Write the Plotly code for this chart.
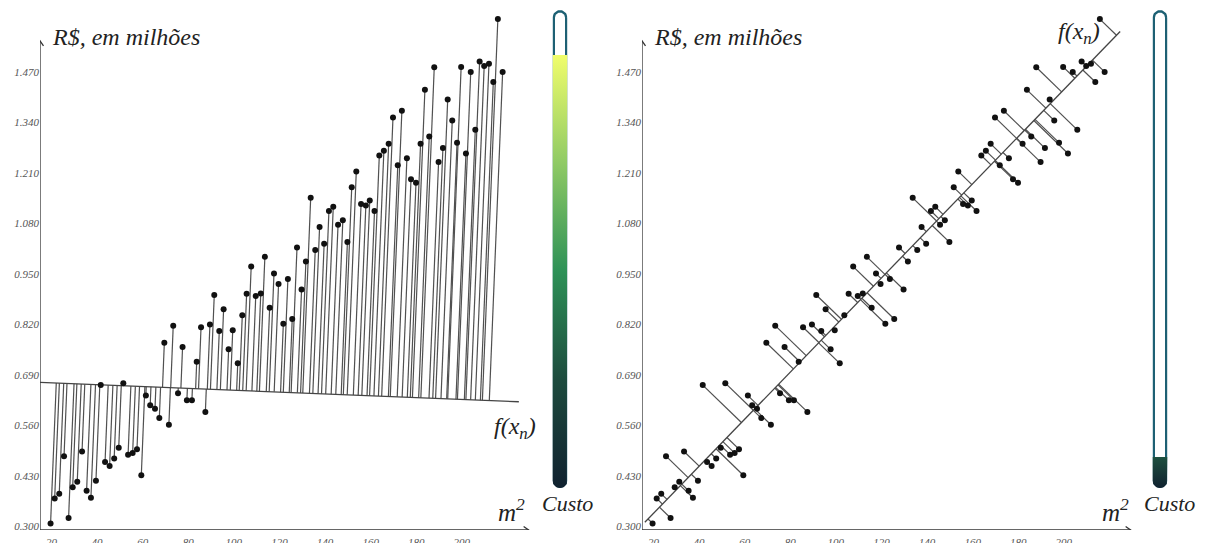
import numpy as np
import plotly.graph_objects as go

# ---------------- data ----------------
area_m2 = [19.6, 21.4, 23.4, 25.5, 27.5, 29.3, 31.3, 33.4, 35.4, 37.3,
           39.5, 41.6, 43.5, 45.5, 47.5, 49.5, 51.5, 53.6, 55.6, 57.5,
           59.4, 61.4, 63.3, 65.4, 67.3, 69.5, 71.5, 73.4, 75.5, 77.5,
           79.4, 81.6, 83.7, 85.6, 87.5, 89.5, 91.4, 93.6, 95.5, 97.7,
           99.5, 101.7, 103.7, 105.6, 107.6, 109.6, 111.8, 113.6, 115.7, 117.6,
           119.6, 121.7, 123.7, 125.6, 127.7, 129.7, 131.6, 133.7, 135.7, 137.6,
           139.6, 141.7, 143.6, 145.7, 147.8, 149.8, 151.7, 153.7, 155.8, 157.9,
           159.6, 161.7, 163.8, 165.8, 167.9, 169.8, 171.9, 173.7, 175.9, 177.7,
           179.9, 181.9, 183.8, 185.7, 187.9, 189.8, 191.7, 193.8, 195.8, 197.9,
           199.7, 201.8, 203.9, 205.9, 207.8, 209.8, 211.9, 213.8, 215.8, 217.9]
price_mi = [0.308, 0.372, 0.384, 0.481, 0.322, 0.401, 0.415, 0.493, 0.392, 0.374,
            0.418, 0.664, 0.466, 0.456, 0.475, 0.503, 0.669, 0.485, 0.489, 0.499,
            0.432, 0.637, 0.612, 0.603, 0.579, 0.773, 0.562, 0.817, 0.643, 0.762,
            0.625, 0.625, 0.724, 0.813, 0.595, 0.820, 0.896, 0.803, 0.859, 0.756,
            0.805, 0.720, 0.844, 0.899, 0.969, 0.893, 0.900, 0.994, 0.863, 0.951,
            0.924, 0.822, 0.937, 0.834, 1.018, 0.910, 0.982, 1.146, 1.012, 1.071,
            1.028, 1.112, 1.123, 1.077, 1.088, 1.032, 1.173, 1.214, 1.130, 1.126,
            1.139, 1.112, 1.255, 1.267, 1.285, 1.353, 1.230, 1.370, 1.248, 1.194,
            1.185, 1.285, 1.424, 1.304, 1.482, 1.238, 1.274, 1.399, 1.345, 1.288,
            1.483, 1.260, 1.470, 1.321, 1.497, 1.485, 1.491, 1.444, 1.606, 1.470]

fit_initial = [0.6746, -0.000238]   # intercept, slope
fit_final = [0.2126, 0.00606]
fit_span_initial = [15.0, 225.0]
fit_span_final = [16.2, 224.7]
cost_fraction = [0.906, 0.065]

y_ticks = [0.300, 0.430, 0.560, 0.690, 0.820, 0.950, 1.080, 1.210, 1.340, 1.470]
x_ticks = [20, 40, 60, 80, 100, 120, 140, 160, 180, 200]

# ---------------- layout geometry ----------------
W, H = 1205, 543
X_RANGE = [14.96, 229.9]
Y_RANGE = [0.291, 1.6423]
PANELS = [(40, 530), (642, 1132)]
Y_TOP, Y_BOT = 5, 530
GAUGES = [(552.5, 567.5), (1152.5, 1167.5)]
G_TOP, G_BOT = 10, 488
X_TIP, Y_TIP = 229.3, 1.55

SERIF = "Liberation Serif"
AX_COL = "#333333"

def px_x(p):
    return p / W

def px_y(p):
    return 1 - p / H

sx = (PANELS[0][1] - PANELS[0][0]) / (X_RANGE[1] - X_RANGE[0])
sy = (Y_BOT - Y_TOP) / (Y_RANGE[1] - Y_RANGE[0])

def feet(fit):
    a, b = fit
    x = np.array(area_m2)
    y = np.array(price_mi)
    X, Y = x * sx, y * sy
    m = b * sy / sx
    A = a * sy
    t = (X + m * (Y - A)) / (1 + m * m)
    return t / sx, (A + m * t) / sy

fig = go.Figure()

for k, (fit, span) in enumerate([(fit_initial, fit_span_initial), (fit_final, fit_span_final)]):
    xa = "x" if k == 0 else "x2"
    ya = "y" if k == 0 else "y2"
    fx, fy = feet(fit)
    sxs, sys = [], []
    for xi, yi, a, b in zip(area_m2, price_mi, fx, fy):
        sxs += [xi, a, None]
        sys += [yi, b, None]
    fig.add_trace(go.Scatter(x=sxs, y=sys, mode="lines", xaxis=xa, yaxis=ya,
                             line=dict(color="#505050", width=1.2), hoverinfo="skip"))
    lx = np.array(span)
    fig.add_trace(go.Scatter(x=lx, y=fit[0] + fit[1] * lx, mode="lines", xaxis=xa, yaxis=ya,
                             line=dict(color="#444444", width=1.3), hoverinfo="skip"))
    fig.add_trace(go.Scatter(x=area_m2, y=price_mi, mode="markers", xaxis=xa, yaxis=ya,
                             marker=dict(color="#111111", size=6), hoverinfo="skip",
                             cliponaxis=False))

# ---------------- gauges ----------------
colorscale = [[0, "#10212f"], [0.25, "#1d4b3e"], [0.5, "#2d9157"],
              [0.75, "#8fca65"], [1, "#f0fd6b"]]
gw = GAUGES[0][1] - GAUGES[0][0]
gh = G_BOT - G_TOP
for k, frac in enumerate(cost_fraction):
    xa = "x%d" % (k + 3)
    ya = "y%d" % (k + 3)
    ins = 1.3
    r = gw / 2 - ins
    c = gw / 2
    th_top = np.linspace(0, np.pi, 30)
    th_bot = np.linspace(np.pi, 2 * np.pi, 30)
    ox = np.concatenate([c + r * np.cos(th_top), c + r * np.cos(th_bot), [c + r]])
    oy = np.concatenate([gh - ins - r + r * np.sin(th_top), ins + r + r * np.sin(th_bot), [gh - ins - r]])
    fig.add_trace(go.Scatter(x=ox, y=oy, mode="lines", xaxis=xa, yaxis=ya,
                             line=dict(color="#1d6073", width=2.4), hoverinfo="skip"))
    fh = frac * gh
    rf = gw / 2
    th = np.linspace(0, -np.pi, 30)
    fxp = np.concatenate([[gw], c + rf * np.cos(th), [0, gw]])
    fyp = np.concatenate([[fh], rf + rf * np.sin(th), [fh, fh]])
    stop = fh if k == 0 else fh / 0.28
    fig.add_trace(go.Scatter(x=fxp, y=fyp, mode="lines", fill="toself", xaxis=xa, yaxis=ya,
                             line=dict(width=0, color="rgba(0,0,0,0)"),
                             fillgradient=dict(type="vertical", colorscale=colorscale,
                                               start=0, stop=stop),
                             hoverinfo="skip"))

tick_font = dict(family=SERIF, size=11, color="#555555", style="italic")
ydom = [px_y(Y_BOT), px_y(Y_TOP)]
layout_axes = {}
for k, (l, r) in enumerate(PANELS):
    sfx = "" if k == 0 else "2"
    layout_axes["xaxis" + sfx] = dict(domain=[px_x(l), px_x(r)], range=X_RANGE,
                                      tickvals=x_ticks, ticktext=[str(v) for v in x_ticks],
                                      showgrid=False, zeroline=False, showline=False,
                                      ticks="", tickfont=tick_font, fixedrange=True,
                                      ticklabelstandoff=4, automargin=False,
                                      anchor="y" + sfx)
    layout_axes["yaxis" + sfx] = dict(domain=ydom, range=Y_RANGE,
                                      tickvals=y_ticks, ticktext=["%.3f" % v for v in y_ticks],
                                      showgrid=False, zeroline=False, showline=False,
                                      ticks="", tickfont=tick_font, fixedrange=True,
                                      automargin=False, anchor="x" + sfx)
for k, (l, r) in enumerate(GAUGES):
    n = str(k + 3)
    layout_axes["xaxis" + n] = dict(domain=[px_x(l), px_x(r)], range=[0, gw], visible=False,
                                    fixedrange=True, automargin=False, anchor="y" + n)
    layout_axes["yaxis" + n] = dict(domain=[px_y(G_BOT), px_y(G_TOP)], range=[0, gh],
                                    visible=False, fixedrange=True, automargin=False,
                                    anchor="x" + n)

# ---------------- axes with arrowheads (shapes) ----------------
shapes = []
for k in range(2):
    xr = "x" if k == 0 else "x2"
    yr = "y" if k == 0 else "y2"
    ax_line = dict(color=AX_COL, width=1.3)
    shapes.append(dict(type="line", xref=xr, yref=yr, x0=X_RANGE[0], x1=X_RANGE[0],
                       y0=Y_RANGE[0], y1=Y_TIP, line=ax_line))
    shapes.append(dict(type="line", xref=xr, yref=yr, x0=X_RANGE[0], x1=X_TIP,
                       y0=Y_RANGE[0], y1=Y_RANGE[0], line=ax_line))
    shapes.append(dict(type="path", xref=xr, yref=yr, xsizemode="pixel", ysizemode="pixel",
                       xanchor=X_RANGE[0], yanchor=Y_TIP,
                       path="M-3.5,-5 L0,0 L3.5,-5", line=ax_line))
    shapes.append(dict(type="path", xref=xr, yref=yr, xsizemode="pixel", ysizemode="pixel",
                       xanchor=X_TIP, yanchor=Y_RANGE[0],
                       path="M-5,3.5 L0,0 L-5,-3.5", line=ax_line))

annotations = []

def label(text, px, py, size, xanchor="left"):
    annotations.append(dict(text=text, x=px_x(px), y=px_y(py), xref="paper", yref="paper",
                            xanchor=xanchor, yanchor="middle", showarrow=False,
                            font=dict(family=SERIF, size=size, color="#222222", style="italic")))

label("R$, em milhões", 50, 37, 24)
label("R$, em milhões", 652, 37, 24)
label("m<sup>2</sup>", 496, 510, 25)
label("m<sup>2</sup>", 1100, 510, 25)
label("f(x<sub>n</sub>)", 492, 428, 24)
label("f(x<sub>n</sub>)", 1056, 33, 24)
label("Custo", 567, 503, 22, "center")
label("Custo", 1169, 503, 22, "center")

fig.update_layout(width=W, height=H, margin=dict(l=0, r=0, t=0, b=0, autoexpand=False),
                  paper_bgcolor="white", plot_bgcolor="white", showlegend=False,
                  hovermode=False, annotations=annotations, shapes=shapes, **layout_axes)

fig.write_html("out.html", config={"displayModeBar": False},
               post_script="document.body.style.margin='0';")
